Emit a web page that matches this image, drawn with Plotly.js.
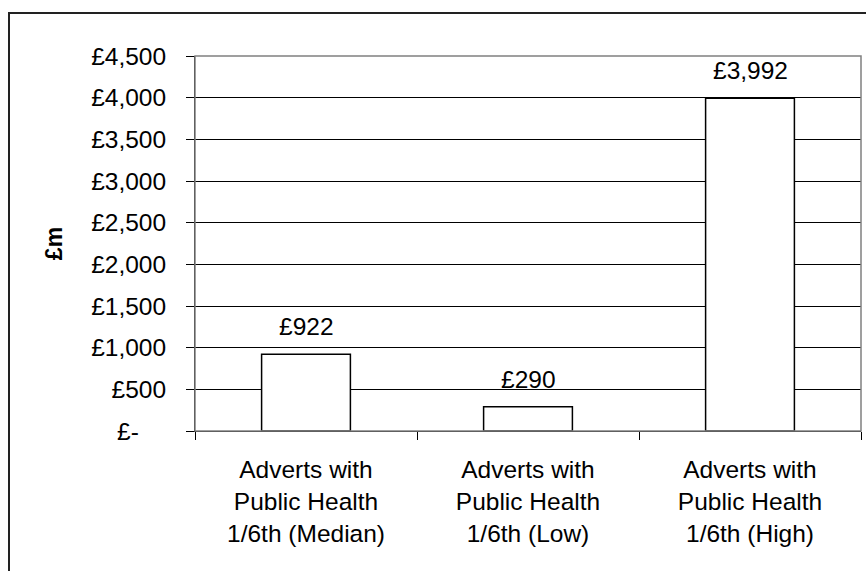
<!DOCTYPE html>
<html>
<head>
<meta charset="utf-8">
<script src="https://cdn.plot.ly/plotly-3.0.1.min.js"></script>
<style>
html,body{margin:0;padding:0;background:#fff;overflow:hidden;}
#wrap{position:relative;width:866px;height:571px;}
#chart{position:absolute;left:0;top:0;width:866px;height:571px;}
#frame{position:absolute;left:8px;top:12px;width:900px;height:700px;border:2px solid #222;pointer-events:none;}
</style>
</head>
<body>
<div id="wrap">
<div id="chart"></div>
<div id="frame"></div>
</div>
<script>
const categories = [
  "Adverts with<br>Public Health<br>1/6th (Median)",
  "Adverts with<br>Public Health<br>1/6th (Low)",
  "Adverts with<br>Public Health<br>1/6th (High)"
];
const values = [922, 290, 3992];
const valueLabels = ["£922", "£290", "£3,992"];
const yTickVals = [0, 500, 1000, 1500, 2000, 2500, 3000, 3500, 4000, 4500];
const yTickText = ["£-\u00a0\u00a0\u00a0\u00a0", "£500", "£1,000", "£1,500", "£2,000", "£2,500", "£3,000", "£3,500", "£4,000", "£4,500"];
const yTitle = "£m";

const FONT = "Liberation Sans, Arial, sans-serif";
const FS = 24.5;

const trace = {
  type: "bar",
  x: categories,
  y: values,
  width: 0.4,
  marker: {color: "#ffffff", line: {color: "#000000", width: 1.5}},
  hoverinfo: "none"
};

const annotations = categories.map((c, i) => ({
  x: c, y: values[i], xref: "x", yref: "y",
  text: valueLabels[i], showarrow: false,
  yanchor: "bottom", yshift: 12,
  font: {family: FONT, size: FS, color: "#000"}
}));

const layout = {
  width: 866, height: 571,
  margin: {l: 195, r: 5, t: 56, b: 140, pad: 0},
  paper_bgcolor: "#ffffff",
  plot_bgcolor: "#ffffff",
  showlegend: false,
  font: {family: FONT, size: FS, color: "#000"},
  xaxis: {
    type: "category",
    tickson: "boundaries",
    ticks: "outside", ticklen: 8, tickcolor: "#000", tickwidth: 1,
    showline: true, linecolor: "#000", linewidth: 1,
    showgrid: false,
    tickfont: {family: FONT, size: FS, color: "#000"},
    ticklabelstandoff: 17,
    fixedrange: true
  },
  yaxis: {
    range: [0, 4500],
    tickvals: yTickVals, ticktext: yTickText,
    ticks: "outside", ticklen: 8, tickcolor: "#000", tickwidth: 1,
    showline: true, linecolor: "#000", linewidth: 1,
    showgrid: true, gridcolor: "#000", gridwidth: 1,
    zeroline: false,
    tickfont: {family: FONT, size: FS, color: "#000"},
    ticklabelstandoff: 15,
    title: {text: "<b>" + yTitle + "</b>", font: {family: FONT, size: 23, color: "#000"}, standoff: 22},
    fixedrange: true
  },
  shapes: [{
    type: "rect", xref: "paper", yref: "paper", x0: 0, x1: 1, y0: 0, y1: 1,
    line: {color: "#808080", width: 1.5}, layer: "above"
  }],
  annotations: annotations
};

Plotly.newPlot("chart", [trace], layout, {displayModeBar: false, staticPlot: true});
</script>
</body>
</html>
